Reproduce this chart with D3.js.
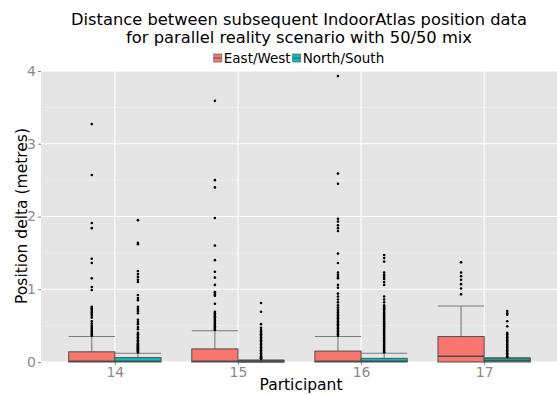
<!DOCTYPE html>
<html><head><meta charset="utf-8">
<script src="https://cdn.jsdelivr.net/npm/d3@7"></script>
<style>body{margin:0;background:#fff}svg{display:block;font-family:"DejaVu Sans",sans-serif}</style>
</head><body><svg id="c" width="557" height="395"></svg>
<script>
const categories = ["14","15","16","17"];
const seriesNames = ["East/West","North/South"];
const seriesColors = ["#F8766D","#00BFC4"];
const yTicks = [0,1,2,3,4];
const yMinor = [0.5,1.5,2.5,3.5];

// box stats per participant
const ewLower = [0,0,0,0];
const ewQ1 = [0,0,0,0];
const ewMedian = [0.01,0.01,0.01,0.08];
const ewQ3 = [0.14,0.18,0.15,0.35];
const ewUpper = [0.35,0.43,0.35,0.77];
const nsLower = [0,0,0,0];
const nsQ1 = [0,0,0,0];
const nsMedian = [0.01,0.005,0.01,0.02];
const nsQ3 = [0.06,0.02,0.05,0.05];
const nsUpper = [0.12,0.03,0.12,0.06];

// outliers
const ewOut14 = [3.27,2.57,1.91,1.84,1.42,1.36,1.15,1.03,0.99,0.76,0.74,0.72,0.70,0.68,0.66,0.64,0.61,0.56,0.53,0.50,0.48,0.46,0.44,0.42,0.40,0.38,0.36];
const nsOut14 = [1.95,1.64,1.62,1.25,1.21,1.17,1.13,1.10,0.92,0.88,0.85,0.76,0.73,0.70,0.67,0.58,0.55,0.52,0.48,0.45,0.40,0.38,0.36,0.34,0.32,0.30,0.28,0.26,0.25,0.24,0.23,0.22,0.21,0.20,0.19,0.18,0.17,0.16,0.15,0.14,0.13];
const ewOut15 = [3.59,2.50,2.40,1.98,1.60,1.40,1.24,1.16,1.06,0.96,0.93,0.91,0.80,0.69,0.67,0.65,0.63,0.61,0.59,0.57,0.55,0.53,0.51,0.49,0.47,0.45,0.44];
const nsOut15 = [0.81,0.69,0.52,0.47,0.44,0.42,0.40,0.38,0.36,0.34,0.32,0.30,0.28,0.26,0.24,0.22,0.20,0.18,0.16,0.14,0.12,0.10,0.08,0.07,0.06,0.05,0.04];
const ewOut16 = [3.93,2.59,2.45,1.97,1.93,1.88,1.84,1.80,1.49,1.36,1.23,1.20,1.17,1.15,1.06,1.02,0.94,0.90,0.86,0.82,0.78,0.75,0.72,0.70,0.68,0.66,0.64,0.62,0.60,0.58,0.56,0.54,0.52,0.50,0.48,0.46,0.44,0.42,0.40,0.38,0.36];
const nsOut16 = [1.47,1.43,1.38,1.23,1.20,1.17,1.14,1.10,1.06,0.90,0.86,0.82,0.78,0.76,0.74,0.72,0.70,0.68,0.66,0.64,0.62,0.60,0.58,0.56,0.54,0.52,0.50,0.48,0.46,0.44,0.42,0.40,0.38,0.36,0.34,0.32,0.30,0.28,0.26,0.24,0.22,0.20,0.18,0.16,0.14,0.13];
const ewOut17 = [1.37,1.23,1.18,1.13,1.07,1.01,0.93];
const nsOut17 = [0.70,0.67,0.65,0.56,0.49,0.40,0.38,0.36,0.34,0.32,0.30,0.28,0.26,0.24,0.22,0.20,0.18,0.16,0.14,0.12,0.10,0.08,0.07];

const series = [
  {name: seriesNames[0], color: seriesColors[0], lower: ewLower, q1: ewQ1, med: ewMedian, q3: ewQ3, upper: ewUpper, out: [ewOut14, ewOut15, ewOut16, ewOut17]},
  {name: seriesNames[1], color: seriesColors[1], lower: nsLower, q1: nsQ1, med: nsMedian, q3: nsQ3, upper: nsUpper, out: [nsOut14, nsOut15, nsOut16, nsOut17]}
];

const svg = d3.select("#c");
const P = {l: 41, r: 557, t: 71, b: 362};

const x = d3.scalePoint().domain(categories).range([P.l, 558]).padding(0.6);
const dodge = d3.scaleBand().domain(seriesNames).range([-x.step()*0.375, x.step()*0.375]);
const y = d3.scaleLinear().domain([0,4]).range([P.b, P.t]);

// panel
svg.append("rect").attr("x",P.l).attr("y",P.t).attr("width",P.r-P.l).attr("height",P.b-P.t).attr("fill","#E5E5E5");
const g = svg.append("g");
g.selectAll("line.minor").data(yMinor).join("line").attr("x1",P.l).attr("x2",P.r)
  .attr("y1",d=>y(d)).attr("y2",d=>y(d)).attr("stroke","#F2F2F2").attr("stroke-width",0.6);
g.selectAll("line.major").data(yTicks).join("line").attr("x1",P.l).attr("x2",P.r)
  .attr("y1",d=>y(d)).attr("y2",d=>y(d)).attr("stroke","#FFFFFF").attr("stroke-width",1.1);
g.selectAll("line.vmaj").data(categories).join("line").attr("y1",P.t).attr("y2",P.b)
  .attr("x1",d=>x(d)).attr("x2",d=>x(d)).attr("stroke","#FFFFFF").attr("stroke-width",1.1);

// axes
const yAxis = svg.append("g").attr("transform",`translate(${P.l},0)`)
  .call(d3.axisLeft(y).tickValues(yTicks).tickSize(3).tickPadding(2).tickFormat(d3.format("d")));
const xAxis = svg.append("g").attr("transform",`translate(0,${P.b})`)
  .call(d3.axisBottom(x).tickSize(3).tickPadding(2));
[yAxis,xAxis].forEach(a=>{
  a.attr("font-size",14).attr("font-family","DejaVu Sans");
  a.select(".domain").remove();
  a.selectAll(".tick line").attr("stroke","#8a8a8a");
  a.selectAll(".tick text").attr("fill","#8a8a8a");
});

// boxes
series.forEach(s=>{
  const bw = dodge.bandwidth();
  const grp = svg.append("g");
  categories.forEach((c,i)=>{
    const x0 = x(c) + dodge(s.name);
    const cx = x0 + bw/2;
    grp.append("line").attr("x1",cx).attr("x2",cx).attr("y1",y(s.upper[i])).attr("y2",y(s.q3[i]))
      .attr("stroke","#7a7a7a").attr("stroke-width",1.1);
    grp.append("line").attr("x1",x0).attr("x2",x0+bw).attr("y1",y(s.upper[i])).attr("y2",y(s.upper[i]))
      .attr("stroke","#7a7a7a").attr("stroke-width",1.1);
    grp.append("rect").attr("x",x0).attr("width",bw).attr("y",y(s.q3[i]))
      .attr("height",Math.max(0.5,y(s.q1[i])-y(s.q3[i]))).attr("fill",s.color)
      .attr("stroke","#4f4f4f").attr("stroke-width",1);
    grp.append("line").attr("x1",x0).attr("x2",x0+bw).attr("y1",y(s.med[i])).attr("y2",y(s.med[i]))
      .attr("stroke","#4a4a4a").attr("stroke-width",1.6);
    grp.selectAll(null).data(s.out[i]).join("circle").attr("cx",cx).attr("cy",d=>y(d))
      .attr("r",1.3).attr("fill","#000");
  });
});

// title
svg.append("text").attr("x",299).attr("y",25).attr("text-anchor","middle").style("font-size","16.3px")
  .text("Distance between subsequent IndoorAtlas position data");
svg.append("text").attr("x",299).attr("y",43).attr("text-anchor","middle").style("font-size","16.3px")
  .text("for parallel reality scenario with 50/50 mix");

// axis titles
svg.append("text").attr("x",301).attr("y",390).attr("text-anchor","middle").style("font-size","15.5px").text("Participant");
svg.append("text").attr("transform","translate(27,216) rotate(-90)").attr("text-anchor","middle")
  .style("font-size","15.5px").text("Position delta (metres)");

// legend
const leg = svg.append("g");
let cursor = 0;
seriesNames.forEach((n,i)=>{
  const it = leg.append("g");
  it.append("rect").attr("x",0).attr("y",-4).attr("width",8).attr("height",8)
    .attr("fill",seriesColors[i]).attr("stroke","#6a6a6a").attr("stroke-width",0.8);
  it.append("line").attr("x1",0).attr("x2",8).attr("y1",0).attr("y2",0).attr("stroke","#555").attr("stroke-width",1);
  const t = it.append("text").attr("x",10).attr("y",5).style("font-size","13.5px").text(n);
  const w = 10 + t.node().getComputedTextLength();
  it.attr("transform",`translate(${cursor},0)`);
  cursor += w + 2;
});
leg.attr("transform",`translate(${299 - cursor/2 + 1},58)`);
</script></body></html>
